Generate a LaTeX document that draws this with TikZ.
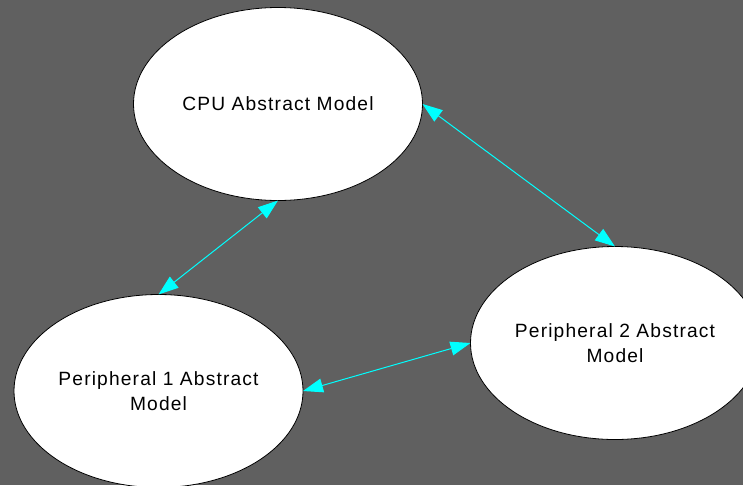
\documentclass[tikz,border=0pt]{standalone}
\usepackage{fontspec}
\setmainfont{Liberation Sans}[LetterSpace=6]
\usetikzlibrary{arrows.meta,shapes.geometric}
\definecolor{bg}{RGB}{96,96,96}
\definecolor{conncol}{RGB}{0,255,255}
\tikzset{
  model/.style={ellipse, draw=black, fill=white, line width=0.8pt, inner sep=0pt, outer sep=0pt,
    minimum width=289pt, minimum height=193pt, align=center,
    font=\fontsize{19.2}{25.7}\selectfont},
  conn/.style={draw=conncol, line width=1pt,
    {Triangle[length=20pt,width=14pt]}-{Triangle[length=20pt,width=14pt]}}
}
\begin{document}
\begin{tikzpicture}[x=1pt,y=-1pt]
\fill[bg] (0,0) rectangle (743,485);
\useasboundingbox (0,0) rectangle (743,485);
\node[model] (cpu) at (278,104) {CPU Abstract Model};
\node[model] (p1) at (158.5,391) {Peripheral 1 Abstract\\Model};
\node[model] (p2) at (615,343) {Peripheral 2 Abstract\\Model};
\draw[conn] (cpu.south) -- (p1.north);
\draw[conn] (cpu.east) -- (p2.north);
\draw[conn] (p1.east) -- (p2.west);
\end{tikzpicture}
\end{document}
